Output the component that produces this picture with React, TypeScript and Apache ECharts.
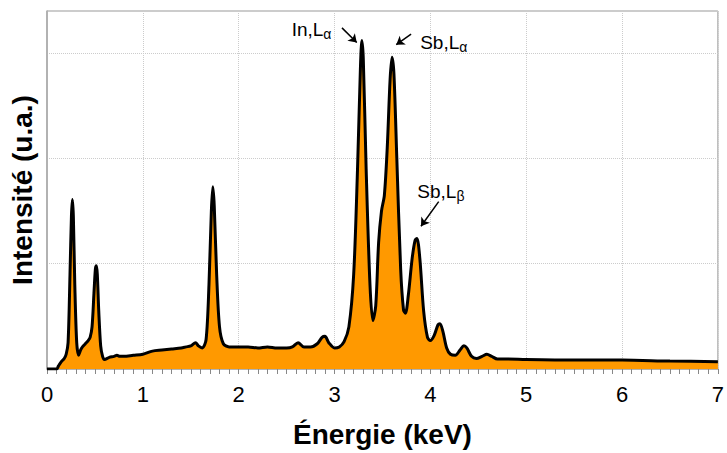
import React, { useEffect, useRef } from "react";
import * as echarts from "echarts";

const energies = [
  0.0, 0.1, 0.12, 0.15, 0.18, 0.2, 0.22, 0.24, 0.255, 0.265, 0.275, 0.29, 0.31, 0.33, 0.35, 0.37, 0.4, 0.43, 0.45, 0.47,
  0.49, 0.505, 0.515, 0.525, 0.54, 0.56, 0.58, 0.6, 0.65, 0.7, 0.73, 0.76, 0.8, 0.9, 1.0, 1.1, 1.2, 1.3, 1.4, 1.45,
  1.5, 1.55, 1.58, 1.62, 1.66, 1.69, 1.715, 1.73, 1.745, 1.77, 1.8, 1.84, 1.9, 2.0, 2.1, 2.2, 2.3, 2.4, 2.5, 2.56,
  2.62, 2.68, 2.75, 2.82, 2.87, 2.9, 2.94, 3.0, 3.05, 3.1, 3.15, 3.2, 3.24, 3.27, 3.285, 3.3, 3.33, 3.37, 3.4, 3.43,
  3.46, 3.49, 3.52, 3.55, 3.58, 3.6, 3.62, 3.65, 3.69, 3.72, 3.74, 3.77, 3.81, 3.84, 3.86, 3.89, 3.93, 3.97, 4.0, 4.04,
  4.08, 4.1, 4.13, 4.17, 4.21, 4.26, 4.31, 4.35, 4.38, 4.43, 4.48, 4.54, 4.59, 4.64, 4.7, 4.8, 5.0, 5.5, 6.0, 6.5, 7.0,
];
const intensities = [
  0, 0, 0.03, 0.07, 0.1, 0.14, 0.25, 0.9, 1.45, 1.61, 1.45, 0.8, 0.25, 0.13, 0.18, 0.21, 0.24, 0.27, 0.3, 0.4,
  0.72, 0.95, 0.98, 0.9, 0.55, 0.22, 0.12, 0.09, 0.11, 0.12, 0.13, 0.12, 0.12, 0.13, 0.14, 0.17, 0.18, 0.19, 0.2, 0.21,
  0.22, 0.25, 0.22, 0.2, 0.28, 0.8, 1.5, 1.73, 1.55, 0.9, 0.4, 0.24, 0.21, 0.21, 0.21, 0.2, 0.21, 0.2, 0.2, 0.21,
  0.25, 0.21, 0.21, 0.24, 0.3, 0.31, 0.25, 0.2, 0.21, 0.26, 0.4, 0.9, 1.9, 2.85, 3.12, 2.95, 1.9, 0.8, 0.46, 0.6,
  1.2, 1.5, 1.65, 2.1, 2.75, 2.96, 2.8, 2.0, 0.95, 0.56, 0.53, 0.7, 1.05, 1.22, 1.24, 1.05, 0.55, 0.3, 0.27, 0.32,
  0.42, 0.43, 0.36, 0.2, 0.14, 0.13, 0.18, 0.22, 0.2, 0.12, 0.1, 0.12, 0.14, 0.12, 0.095, 0.095, 0.09, 0.085, 0.085, 0.075, 0.07,
];

const annotationLabels = [
  { base: "In,L", sub: "α", at: [2.76, 3.22] },
  { base: "Sb,L", sub: "α", at: [4.14, 3.1] },
  { base: "Sb,L", sub: "β", at: [4.11, 1.685] },
];
const arrows = [
  [[3.078, 3.24], [3.232, 3.1]],
  [[3.799, 3.18], [3.644, 3.08]],
  [[4.087, 1.59], [3.902, 1.356]],
];

const FONT = "'Liberation Sans', Arial, Helvetica, sans-serif";

export default function App() {
  const ref = useRef<HTMLDivElement>(null);
  useEffect(() => {
    if (!ref.current) return;
    const chart = echarts.init(ref.current, null, { renderer: "svg" });
    const data = energies.map((e, i) => [e, intensities[i]]);
    chart.setOption({
      animation: false,
      textStyle: { fontFamily: FONT },
      grid: {
        left: 44,
        right: 3,
        top: 11,
        bottom: 81,
        show: true,
        borderColor: "#999",
        borderWidth: 1,
      },
      xAxis: {
        type: "value",
        min: 0,
        max: 7,
        interval: 1,
        name: "Énergie (keV)",
        nameLocation: "middle",
        nameGap: 51,
        nameTextStyle: { fontSize: 28, fontWeight: "bold", color: "#000", fontFamily: FONT },
        axisLine: { show: true, lineStyle: { color: "#aaa", width: 1.5 } },
        axisTick: { show: true, length: 5, lineStyle: { color: "#888" } },
        minorTick: { show: true, splitNumber: 10, length: 5, lineStyle: { color: "#888" } },
        axisLabel: { fontSize: 22, color: "#000", margin: 14, fontFamily: FONT },
        splitLine: { show: true, lineStyle: { color: "#ccc", type: "dotted", width: 1 } },
      },
      yAxis: {
        type: "value",
        min: 0,
        max: 3.4,
        interval: 1,
        name: "Intensité (u.a.)",
        nameLocation: "middle",
        nameGap: 11,
        nameTextStyle: { fontSize: 28, fontWeight: "bold", color: "#000", fontFamily: FONT },
        axisLine: { show: true, lineStyle: { color: "#aaa", width: 1.5 } },
        axisTick: { show: false },
        axisLabel: { show: false },
        splitLine: { show: true, lineStyle: { color: "#ccc", type: "dotted", width: 1 } },
      },
      series: [
        {
          type: "line",
          data,
          smooth: 0.3,
          showSymbol: false,
          symbol: "none",
          lineStyle: { color: "#000", width: 3 },
          areaStyle: { color: "#ff9900", opacity: 1 },
          z: 3,
          markPoint: {
            symbol: "circle",
            symbolSize: 0,
            silent: true,
            data: annotationLabels.map((a) => ({
              coord: a.at,
              label: {
                show: true,
                position: "inside",
                formatter: `{a|${a.base}}{s|${a.sub}}`,
                rich: {
                  a: { fontSize: 19, color: "#000", fontFamily: FONT },
                  s: { fontSize: 14, color: "#000", fontFamily: FONT, padding: [8, 0, 0, 0] },
                },
              },
            })),
          },
          markLine: {
            silent: true,
            symbol: ["none", "arrow"],
            symbolSize: 8,
            lineStyle: { color: "#000", width: 1.5, type: "solid" },
            label: { show: false },
            data: arrows.map((a) => [{ coord: a[0] }, { coord: a[1] }]),
          },
        },
      ],
    });
    return () => chart.dispose();
  }, []);
  return <div ref={ref} style={{ width: 727, height: 453, position: "absolute", left: 0, top: 0 }} />;
}
